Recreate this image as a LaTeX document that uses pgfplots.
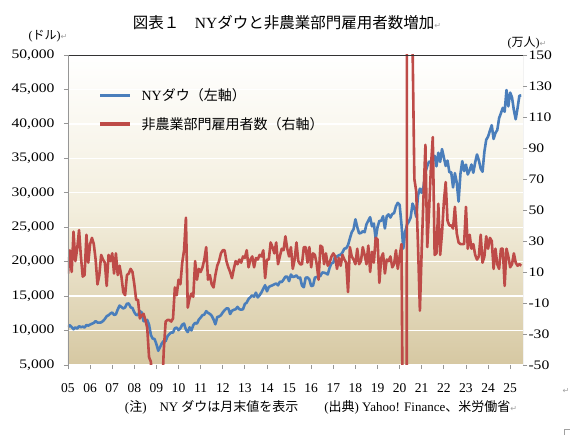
\documentclass[border=0pt]{standalone}
\usepackage{fontspec}
\setmainfont{Liberation Serif}
\newfontfamily\jp{Noto Sans CJK JP}
\newfontfamily\numfont[FakeStretch=1.2]{Liberation Serif}
\newfontfamily\symfont{DejaVu Sans}
\usepackage{pgfplots}
\pgfplotsset{compat=1.18}
\usepackage{pgfplotstable}

\definecolor{dowblue}{RGB}{74,126,187}
\definecolor{nfpred}{RGB}{190,75,72}
\definecolor{bgbot}{RGB}{214,200,162}
\definecolor{bgmid}{RGB}{243,238,221}
\definecolor{axgray}{RGB}{150,150,150}
\definecolor{retgray}{RGB}{160,160,160}

% monthly data Jan 2005 - Jul 2025: Dow month-end close (USD), nonfarm payroll change (10k persons)
\pgfplotstableread{
dow nfp
10490 9
10766 24
10504 10
10193 36
10467 17
10275 25
10641 37
10482 20
10569 7
10440 8
10806 34
10718 16
10865 28
10993 32
11109 28
11367 18
11168 2
11150 8
11186 21
11381 18
11679 16
12081 1
12222 21
12463 17
12622 22
12269 9
12354 22
13063 8
13628 14
13409 7
13212 -3
13358 -5
13896 8
13930 9
13372 12
13265 10
12650 2
12266 -8
12263 -8
12820 -20
12638 -18
11350 -17
11378 -21
11544 -26
10851 -45
9325 -48
8829 -77
8776 -70
8001 -79
7063 -70
7609 -82
8168 -69
8500 -40
8447 -22
9172 -21
9496 -21
9712 -22
9713 -20
10345 0
10428 -5
10067 5
10325 2
10857 16
11009 24
10137 45
9774 -13
10466 -7
10015 -4
10788 -6
11118 17
11006 5
11578 12
11892 10
12226 13
12320 18
12811 26
12570 5
12414 8
12143 2
11614 0
10913 8
11955 14
12046 17
12218 22
12633 24
12952 24
13212 17
13214 13
12393 10
12880 6
13009 12
13091 17
13437 15
13096 18
13026 16
13104 20
13861 19
14054 24
14579 13
14840 18
15116 20
14910 13
15500 19
14810 18
15130 21
15546 20
16086 24
16577 6
15699 18
16322 18
16458 29
16581 26
16717 22
16827 29
16563 15
17098 20
17043 25
17391 24
17828 33
17823 25
17165 20
18133 26
17776 12
17841 18
18011 29
17620 17
17690 15
16528 15
16285 26
17664 26
17720 16
17425 26
16466 13
16517 22
17685 21
17774 15
17787 5
17930 27
18432 26
18401 15
18308 22
18142 14
19124 16
19763 20
19864 22
20812 20
20663 12
20941 19
21009 14
21350 21
21891 18
21948 16
22405 -3
23377 26
24272 20
24719 18
26149 15
25029 25
24103 15
24163 17
24416 26
24271 21
25415 15
25965 27
26458 10
25116 23
25538 16
23327 32
24999 31
25916 3
25929 19
26593 22
24815 9
26600 18
26864 17
26403 20
26917 13
27046 15
28051 24
28538 12
28256 20
25409 28
21917 -140
24346 -2050
25383 270
25813 470
26428 160
28430 158
27782 70
26502 62
29639 26
30606 -15
29983 25
30932 60
32982 92
33875 26
34529 50
34503 78
34935 97
35361 21
33844 22
35820 54
34484 21
36338 35
35132 55
33893 68
34678 43
32977 40
32990 40
30775 38
32845 52
31510 35
28726 29
32733 28
34590 28
33147 28
34086 52
32657 25
33274 34
34098 25
32908 28
34408 21
35560 18
34722 20
33508 34
33053 16
35951 20
37690 33
38150 25
38996 32
39807 30
37816 12
38686 25
39119 15
40843 12
41563 25
42330 25
41763 1
44911 25
42544 20
44545 13
43841 15
42002 22
40669 16
42270 14
44095 15
44131 14
}\datatable

\begin{document}
\begin{tikzpicture}
\pgfplotsset{
  base/.style={
    scale only axis, width=455pt, height=310pt,
    xmin=0, xmax=20.58,
    axis line style={draw=none},
    tick align=outside, major tick length=4pt,
    tick style={axgray, line width=0.8pt},
    scaled y ticks=false, scaled x ticks=false,
  }
}
\begin{axis}[base,
  ymin=5000, ymax=50000,
  ytick={5000,10000,...,50000},
  yticklabels={{5,000},{10,000},{15,000},{20,000},{25,000},{30,000},{35,000},{40,000},{45,000},{50,000}},
  xtick={0,1,...,20},
  xticklabels={05,06,07,08,09,10,11,12,13,14,15,16,17,18,19,20,21,22,23,24,25},
  xtick pos=bottom, ytick pos=left,
  yticklabel style={font=\numfont\fontsize{13}{13}\selectfont, xshift=-6pt},
  xticklabel style={font=\fontsize{13.5}{13.5}\selectfont, yshift=-11pt},
  axis background/.style={top color=white, bottom color=bgbot, middle color=bgmid},
  ymajorgrids, major grid style={white, line width=1.3pt},
]
\addplot[dowblue, line width=2.6pt, line join=round] table[x expr=\coordindex/12, y=dow] {\datatable};
\end{axis}
\begin{axis}[base,
  ymin=-50, ymax=150,
  ytick={-50,-30,...,150},
  yticklabels={-50,-30,-10,10,30,50,70,90,110,130,150},
  xtick=\empty,
  ytick pos=right,
  yticklabel style={font=\numfont\fontsize{13}{13}\selectfont, xshift=-2pt},
  legend style={draw=none, fill=none, at={(0.06,0.905)}, anchor=north west,
    font=\jp\fontsize{14}{14}\selectfont, row sep=11pt, legend cell align=left},
  legend image code/.code={\draw[#1, line width=3.5pt] (0pt,0pt) -- (30pt,0pt); \path (38pt,0pt);},
]
\addlegendimage{dowblue}
\addlegendentry{{\rmfamily NY}ダウ（左軸）}
\addplot[nfpred, line width=2.6pt, line join=round] table[x expr=\coordindex/12, y=nfp] {\datatable};
\addlegendentry{非農業部門雇用者数（右軸）}
\draw[black!80, line width=0.9pt] (rel axis cs:0,1) -- (rel axis cs:1,1);
\draw[axgray, line width=0.9pt] (rel axis cs:0,0) -- (rel axis cs:0,1);
\draw[axgray, line width=0.9pt] (rel axis cs:0,0) -- (rel axis cs:1,0);
\draw[axgray, line width=0.9pt] (rel axis cs:1,0) -- (rel axis cs:1,1);
\end{axis}
% titles and notes (1pt = 1px; axis box lower-left at (0,0))
\node[font=\jp\fontsize{15.5}{16}\selectfont, anchor=center] at (219pt,342pt) {図表１　{\rmfamily NY}ダウと非農業部門雇用者数増加\textcolor{retgray}{\symfont\fontsize{8}{8}\selectfont ↵}};
\node[font=\jp\fontsize{12}{12}\selectfont, anchor=center] at (-20pt,329pt) {{\rmfamily(}ドル{\rmfamily)}\textcolor{retgray}{\symfont\fontsize{8}{8}\selectfont ↵}};
\node[font=\jp\fontsize{12}{12}\selectfont, anchor=center] at (459pt,322pt) {{\rmfamily(}万人{\rmfamily)}\textcolor{retgray}{\symfont\fontsize{8}{8}\selectfont ↵}};
\node[font=\jp\fontsize{13}{13}\selectfont, anchor=center] at (253pt,-42pt) {{\rmfamily(}注{\rmfamily)}　{\rmfamily NY} ダウは月末値を表示　　{\rmfamily(}出典{\rmfamily) Yahoo! Finance}、米労働省\textcolor{retgray}{\symfont\fontsize{8}{8}\selectfont ↵}};
\node[text=retgray, font=\symfont\fontsize{8}{8}\selectfont] at (498pt,-26pt) {↵};
\draw[retgray, line width=0.5pt] (496pt,-70pt) -- (496pt,-64pt) -- (502pt,-64pt);
\pgfresetboundingbox
\path[use as bounding box] (-68pt,-72pt) rectangle (506pt,365pt);
\end{tikzpicture}
\end{document}
